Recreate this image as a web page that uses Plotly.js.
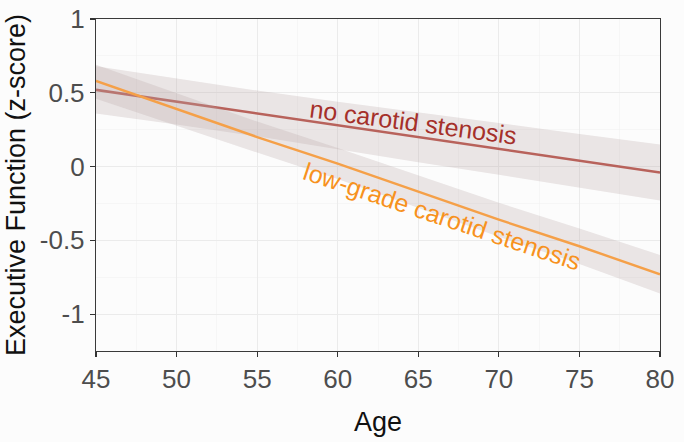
<!DOCTYPE html>
<html>
<head>
<meta charset="utf-8">
<script src="https://cdn.plot.ly/plotly-3.0.1.min.js"></script>
<style>html,body{margin:0;padding:0;background:#fcfcfc;}#chart{width:684px;height:442px;}</style>
</head>
<body>
<div id="chart"></div>
<script>
// Age grid
var ages = [45, 50, 55, 60, 65, 70, 75, 80];
// No carotid stenosis: fitted line and 95% CI
var noStenosisFit   = [0.52, 0.44, 0.36, 0.28, 0.20, 0.12, 0.04, -0.04];
var noStenosisUpper = [0.68, 0.595, 0.515, 0.44, 0.37, 0.295, 0.22, 0.15];
var noStenosisLower = [0.36, 0.285, 0.205, 0.12, 0.03, -0.055, -0.14, -0.23];
// Low-grade carotid stenosis: fitted line and 95% CI
var lowGradeFit   = [0.58, 0.39, 0.20, 0.02, -0.17, -0.36, -0.54, -0.73];
var lowGradeUpper = [0.69, 0.50, 0.305, 0.125, -0.06, -0.245, -0.42, -0.60];
var lowGradeLower = [0.46, 0.28, 0.095, -0.085, -0.28, -0.475, -0.66, -0.86];
// Labels
var seriesLabels = ["no carotid stenosis", "low-grade carotid stenosis"];
var xTickVals = [45, 50, 55, 60, 65, 70, 75, 80];
var yTickVals = [-1, -0.5, 0, 0.5, 1];
var yTickText = ["-1", "-0.5", "0", "0.5", "1"];

function band(lo, hi, color) {
  return {
    x: ages.concat(ages.slice().reverse()),
    y: hi.concat(lo.slice().reverse()),
    mode: 'lines', line: {width: 0}, fill: 'toself', fillcolor: color,
    hoverinfo: 'skip', showlegend: false, type: 'scatter'
  };
}
function fitLine(y, color, w) {
  return {x: ages, y: y, mode: 'lines', line: {color: color, width: w}, showlegend: false, type: 'scatter'};
}
var bandColor = 'rgba(185,170,168,0.28)';
var data = [
  band(noStenosisLower, noStenosisUpper, bandColor),
  fitLine(noStenosisFit, '#b8625b', 2.6),
  band(lowGradeLower, lowGradeUpper, bandColor),
  fitLine(lowGradeFit, '#f5a048', 2.4)
];
var font = "'Liberation Sans', Arial, sans-serif";
var layout = {
  width: 684, height: 442,
  margin: {l: 96, r: 24, t: 19, b: 91},
  paper_bgcolor: '#fcfcfc', plot_bgcolor: '#fcfcfc',
  font: {family: font, color: '#4d4d4d'},
  showlegend: false,
  xaxis: {
    range: [45, 80], tickvals: xTickVals, ticks: 'outside', ticklen: 5, tickcolor: '#333', tickwidth: 1.2,
    showgrid: true, gridcolor: '#ebebeb', gridwidth: 1.1,
    minor: {dtick: 2.5, tick0: 45, showgrid: true, gridcolor: '#f2f2f2', gridwidth: 0.6},
    showline: true, linecolor: '#3a3a3a', linewidth: 1.2, mirror: true, zeroline: false,
    tickfont: {size: 26, color: '#4d4d4d'},
    title: {text: 'Age', font: {size: 27, color: '#111'}, standoff: 18}
  },
  yaxis: {
    range: [-1.25, 1.0], tickvals: yTickVals, ticktext: yTickText, ticks: 'outside', ticklen: 5, tickcolor: '#333', tickwidth: 1.2,
    showgrid: true, gridcolor: '#ebebeb', gridwidth: 1.1,
    minor: {dtick: 0.25, tick0: 0, showgrid: true, gridcolor: '#f2f2f2', gridwidth: 0.6},
    showline: true, linecolor: '#3a3a3a', linewidth: 1.2, mirror: true, zeroline: false,
    tickfont: {size: 26, color: '#4d4d4d'},
    title: {text: 'Executive Function (z-score)', font: {size: 27, color: '#111'}, standoff: 6}
  },
  annotations: [
    {x: 64.67, y: 0.303, xref: 'x', yref: 'y', text: seriesLabels[0], showarrow: false,
     textangle: 7.5, font: {size: 25, color: '#a5302a', family: font}, xanchor: 'center', yanchor: 'middle'},
    {x: 66.45, y: -0.335, xref: 'x', yref: 'y', text: seriesLabels[1], showarrow: false,
     textangle: 18.5, font: {size: 25, color: '#f7921e', family: font}, xanchor: 'center', yanchor: 'middle'}
  ]
};
Plotly.newPlot('chart', data, layout, {staticPlot: true, displayModeBar: false});
</script>
</body>
</html>
